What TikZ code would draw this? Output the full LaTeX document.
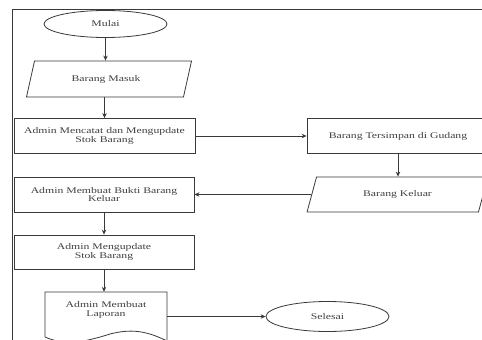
\documentclass[tikz,border=0pt]{standalone}
\usepackage{fontspec}
\setmainfont{Liberation Serif}[FakeStretch=1.35]
\usetikzlibrary{shapes.geometric,arrows.meta}
\definecolor{ink}{HTML}{3A3A3A}
\definecolor{txt}{HTML}{404040}
\begin{document}
\begin{tikzpicture}[x=1pt,y=-1pt,
  every node/.style={font=\fontsize{8.7}{8.6}\selectfont, text=txt, align=center, inner sep=0pt},
  line/.style={draw=ink, line width=0.8pt},
  flow/.style={line, -{Stealth[length=5pt,width=4.5pt]}},
  term/.style={ellipse, draw=ink, line width=0.8pt, minimum width=123pt},
  proc/.style={rectangle, draw=ink, line width=0.8pt, minimum height=35pt},
  io/.style={trapezium, trapezium stretches=true, draw=ink, line width=0.8pt},
]
\useasboundingbox (0,0) rectangle (482,340);
\clip (0,0) rectangle (482,340);

% outer frame
\draw[ink, line width=1pt] (12,342) -- (12,9) -- (484,9);

% flowchart nodes
\node[term, minimum height=27pt] (mulai) at (105.5,24) {Mulai};
\node[io, trapezium left angle=63, trapezium right angle=117,
      minimum width=166pt, minimum height=36pt] (masuk) at (109,79) {Barang Masuk\hspace*{6pt}};
\node[proc, minimum width=181pt] (catat) at (104.5,136) {Admin Mencatat dan Mengupdate\\Stok Barang};
\node[proc, minimum width=182pt] (simpan) at (398,136) {Barang Tersimpan di Gudang};
\node[io, trapezium left angle=63, trapezium right angle=117,
      minimum width=181pt, minimum height=35pt] (keluar) at (397.5,194.5) {Barang Keluar};
\node[proc, minimum width=180pt] (bukti) at (104,194.5) {Admin Membuat Bukti Barang\\Keluar};
\node[proc, minimum width=180pt, minimum height=34pt] (update) at (104,252) {Admin Mengupdate\\Stok Barang};
\node[minimum width=122pt, minimum height=36pt] (lap) at (106,310) {Admin Membuat\\Laporan};
\node[term, minimum height=30pt] (sel) at (327.5,316.5) {Selesai};

% document outline with wavy bottom
\draw[line] (45,292) -- (167,292) -- (167,341)
  .. controls (145,330) and (130,329) .. (110,334)
  .. controls (85,342) and (65,346) .. (45,337) -- cycle;

% connectors
\draw[flow] (mulai.south) -- (mulai.south |- masuk.north);
\draw[flow] (catat.north |- masuk.south) -- (catat.north);
\draw[flow] (catat) -- (simpan);
\draw[flow] (simpan.south) -- (simpan.south |- keluar.north);
\draw[flow] (keluar) -- (bukti);
\draw[flow] (bukti) -- (update);
\draw[flow] (update.south) -- (update.south |- lap.north);
\draw[flow] (sel.west -| lap.east) -- (sel.west);
\end{tikzpicture}
\end{document}
